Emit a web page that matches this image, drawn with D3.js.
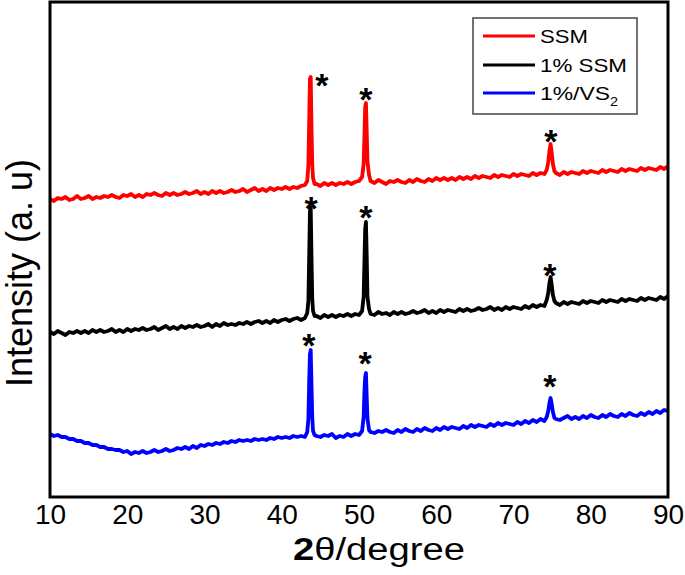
<!DOCTYPE html>
<html>
<head>
<meta charset="utf-8">
<script src="https://cdn.jsdelivr.net/npm/d3@7"></script>
<style>
  html, body { margin: 0; padding: 0; background: #fff; }
  svg { display: block; font-family: "Liberation Sans", Arial, sans-serif; }
</style>
</head>
<body>
<svg id="chart" width="685" height="575"></svg>
<script>
const angles = [
  10,10.5,11,11.5,12,12.5,13,13.5,14,14.5,
  15,15.5,16,16.5,17,17.5,18,18.5,19,19.5,
  20,20.5,21,21.5,22,22.5,23,23.5,24,24.5,
  25,25.5,26,26.5,27,27.5,28,28.5,29,29.5,
  30,30.5,31,31.5,32,32.5,33,33.5,34,34.5,
  35,35.5,36,36.5,37,37.5,38,38.5,39,39.5,
  40,40.5,41,41.5,42,42.5,43,
  43.3,43.45,43.55,43.65,43.75,43.85,43.95,44.05,44.25,
  44.5,45,45.5,46,46.5,47,47.5,48,48.5,49,49.5,50,
  50.4,50.6,50.7,50.8,50.9,51.0,51.1,51.3,
  51.5,52,52.5,53,53.5,54,54.5,55,55.5,56,
  56.5,57,57.5,58,58.5,59,59.5,60,60.5,61,
  61.5,62,62.5,63,63.5,64,64.5,65,65.5,66,
  66.5,67,67.5,68,68.5,69,69.5,70,70.5,71,
  71.5,72,72.5,73,73.5,74,
  74.3,74.5,74.65,74.8,74.95,75.1,75.3,
  75.5,76,76.5,77,77.5,78,78.5,79,79.5,80,
  80.5,81,81.5,82,82.5,83,83.5,84,84.5,85,
  85.5,86,86.5,87,87.5,88,88.5,89,89.5,90
];

// SSM (red), offset intensity in a.u.
const ssmValues = [
  298,296,299,298,300,297,298,301,298,299,
  301,298,300,299,301,300,302,300,299,302,
  301,303,300,302,300,303,302,304,302,301,
  304,302,304,302,303,305,303,304,306,303,
  305,303,306,304,306,304,305,307,305,306,
  308,305,307,309,306,308,306,309,307,309,
  308,310,308,310,309,311,312,
  316,332,375,418,420,370,332,319,313,
  313,311,314,312,314,312,314,313,315,313,315,316,
  320,333,360,390,394,365,335,322,
  316,314,317,315,313,316,315,317,315,314,
  317,315,318,316,315,318,316,319,317,319,
  317,319,317,320,318,320,318,321,319,321,
  320,319,322,320,322,321,320,323,321,323,
  322,321,324,322,324,323,
  327,335,346,353,344,333,326,
  324,322,325,323,325,324,323,326,324,326,
  325,324,327,325,327,326,325,328,326,328,
  327,326,329,327,329,328,327,330,328,331
];

// 1% SSM (black)
const ssm1Values = [
  165,163,166,164,162,165,164,166,164,166,
  164,167,165,167,165,166,168,165,167,165,
  168,166,168,167,169,167,168,170,167,169,
  171,168,170,168,171,169,171,170,172,170,
  171,173,170,173,171,174,172,173,172,174,
  173,175,173,175,176,174,176,174,177,175,
  177,178,176,178,179,177,179,
  184,196,240,286,290,240,198,186,181,
  181,179,182,180,182,180,182,181,183,181,183,182,
  186,200,235,268,275,240,200,188,
  183,182,185,183,184,182,185,183,185,183,
  184,186,184,185,187,184,186,184,187,185,
  187,186,185,188,186,188,186,187,189,187,
  188,190,187,189,187,190,188,190,189,188,
  191,189,192,190,192,191,
  197,204,214,220,212,202,196,
  194,192,195,193,195,194,193,196,194,196,
  195,194,197,195,197,196,195,198,196,198,
  197,196,199,197,199,198,197,200,198,201
];

// 1%/VS2 (blue)
const vs2Values = [
  63,61,62,60,60,58,58,56,56,54,
  54,52,52,50,50,48,48,47,47,45,
  46,43,45,44,46,44,45,47,45,46,
  48,46,47,49,48,50,48,51,49,52,
  51,53,52,54,53,55,54,56,55,57,
  56,57,56,58,57,58,57,59,58,60,
  59,60,59,61,60,61,60,
  65,78,115,143,147,112,80,66,62,
  61,60,62,61,63,59,61,60,63,61,63,62,
  66,80,105,120,124,100,78,67,
  65,64,66,65,67,65,64,67,65,68,
  66,65,68,66,69,67,66,69,67,70,
  68,70,69,68,71,69,72,70,72,71,
  70,73,71,74,72,74,73,72,75,73,
  76,74,77,75,78,76,
  80,86,94,99,93,85,79,
  78,77,79,81,78,80,78,81,79,82,
  80,79,82,80,83,81,80,83,81,84,
  82,81,84,82,85,83,86,84,87,86
];

// asterisk markers (angle, intensity) per pattern
const ssmMarkAngles = [45.2, 50.9, 74.85];
const ssmMarkValues = [420, 406, 364];
const ssm1MarkAngles = [43.8, 50.9, 74.7];
const ssm1MarkValues = [297, 288, 230];
const vs2MarkAngles = [43.5, 50.8, 74.7];
const vs2MarkValues = [160, 142, 119];

const xTicks = [10, 20, 30, 40, 50, 60, 70, 80, 90];
const seriesNames = ["SSM", "1% SSM", "1%/VS"];
const seriesColors = ["#ff0000", "#000000", "#0000ff"];

[ssmValues, ssm1Values, vs2Values].forEach((v, i) => {
  if (v.length !== angles.length) throw new Error("length mismatch series " + i + ": " + v.length + " vs " + angles.length);
});

const series = [
  { name: seriesNames[0], color: seriesColors[0], values: ssmValues, ma: ssmMarkAngles, mv: ssmMarkValues },
  { name: seriesNames[1], color: seriesColors[1], values: ssm1Values, ma: ssm1MarkAngles, mv: ssm1MarkValues },
  { name: seriesNames[2], color: seriesColors[2], values: vs2Values, ma: vs2MarkAngles, mv: vs2MarkValues }
];

const svg = d3.select("#chart");
const pLeft = 50, pRight = 668, pTop = 2, pBottom = 497;

const x = d3.scaleLinear().domain([10, 90]).range([pLeft, pRight]);
const y = d3.scaleLinear().domain([0, 495]).range([pBottom, pTop]);

const line = d3.line()
  .x((d, i) => x(angles[i]))
  .y(d => y(d));

svg.append("defs").append("clipPath").attr("id", "clip")
  .append("rect").attr("x", pLeft).attr("y", pTop).attr("width", pRight - pLeft).attr("height", pBottom - pTop);

const g = svg.append("g").attr("clip-path", "url(#clip)");
series.forEach(s => {
  g.append("path")
    .datum(s.values)
    .attr("fill", "none")
    .attr("stroke", s.color)
    .attr("stroke-width", 3.8)
    .attr("stroke-linejoin", "round")
    .attr("d", line);
});

// asterisks
series.forEach(s => {
  s.ma.forEach((a, i) => {
    svg.append("text")
      .attr("x", x(a))
      .attr("y", y(s.mv[i]) + 19.5)
      .attr("text-anchor", "middle")
      .attr("font-size", 34)
      .attr("font-weight", "bold")
      .attr("fill", "#000")
      .text("*");
  });
});

// frame
svg.append("rect")
  .attr("x", pLeft).attr("y", pTop)
  .attr("width", pRight - pLeft).attr("height", pBottom - pTop)
  .attr("fill", "none").attr("stroke", "#000").attr("stroke-width", 3);

// x axis
const xAxis = svg.append("g")
  .attr("transform", `translate(0,${pBottom})`)
  .call(d3.axisBottom(x).tickValues(xTicks).tickSize(0).tickPadding(7).tickFormat(d3.format("d")));
xAxis.select(".domain").remove();
xAxis.selectAll("text")
  .attr("font-size", 28)
  .attr("font-family", "Liberation Sans, Arial, sans-serif")
  .attr("fill", "#000");

// x title
const xt = svg.append("text")
  .attr("x", 379).attr("y", 560)
  .attr("text-anchor", "middle")
  .attr("font-size", 31)
  .attr("fill", "#000")
  .attr("textLength", 172)
  .attr("lengthAdjust", "spacingAndGlyphs");
xt.append("tspan").attr("font-weight", "bold").text("2");
xt.append("tspan").text("θ/degree");

// y title
svg.append("text")
  .attr("transform", "translate(32,273) rotate(-90)")
  .attr("text-anchor", "middle")
  .attr("font-size", 36)
  .attr("fill", "#000")
  .text("Intensity (a. u)");

// legend
const lg = svg.append("g");
lg.append("rect")
  .attr("x", 473).attr("y", 18).attr("width", 164).attr("height", 96)
  .attr("fill", "#fff").attr("stroke", "#444").attr("stroke-width", 1.5);
const rowY = [36, 65, 93];
const legendTextLen = [48, 87, 78];
series.forEach((s, i) => {
  lg.append("line")
    .attr("x1", 483).attr("x2", 535)
    .attr("y1", rowY[i]).attr("y2", rowY[i])
    .attr("stroke", s.color).attr("stroke-width", 3);
  const t = lg.append("text")
    .attr("x", 540).attr("y", rowY[i] + 7)
    .attr("font-size", 19)
    .attr("fill", "#000")
    .attr("textLength", legendTextLen[i])
    .attr("lengthAdjust", "spacingAndGlyphs")
    .text(s.name);
  if (i === 2) {
    t.append("tspan").attr("font-size", 12).attr("dy", 6).text("2");
  }
});
</script>
</body>
</html>
